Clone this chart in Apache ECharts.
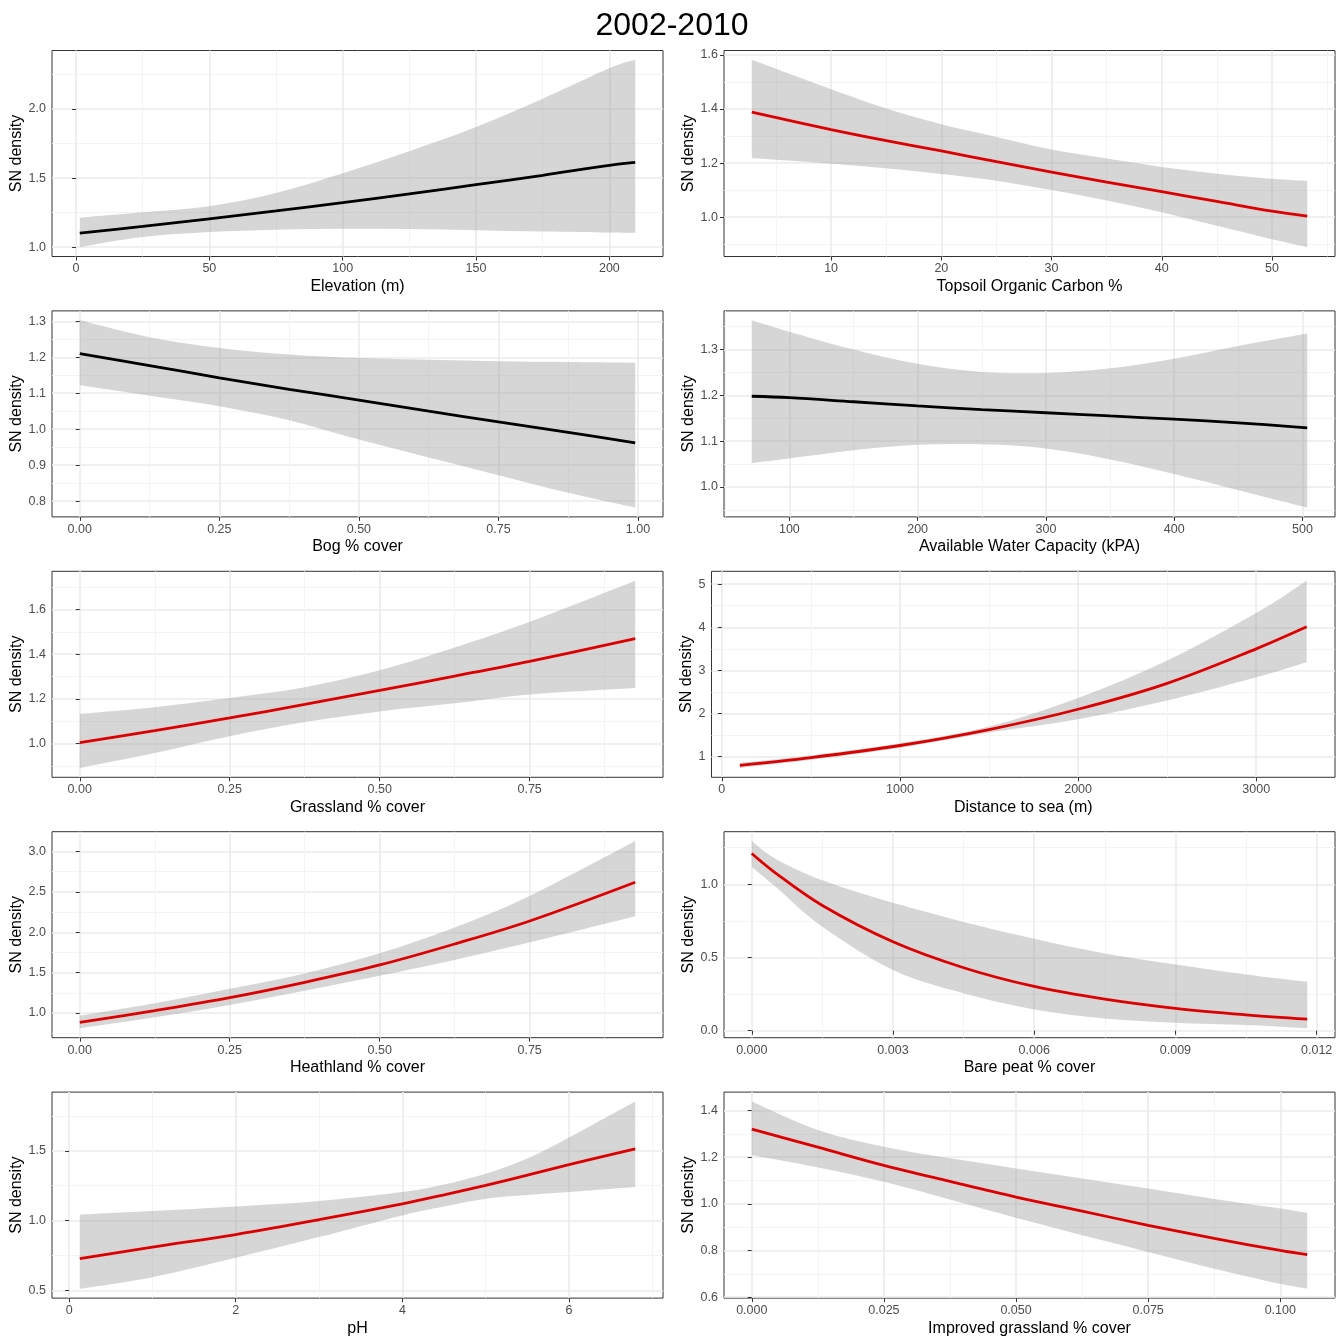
<!DOCTYPE html>
<html><head><meta charset="utf-8">
<script src="https://cdn.jsdelivr.net/npm/echarts@6/dist/echarts.min.js"></script>
<style>html,body{margin:0;padding:0;background:#fff}#c{width:1344px;height:1344px}</style>
</head><body><div id="c"></div>
<script>
// ---------------- DATA ----------------
const chartTitle = '2002-2010';
const yName = 'SN density';

// 1 Elevation
const elevName = 'Elevation (m)';
const elevX   = [1.4, 25, 50, 75, 100, 125, 150, 175, 200, 209.7];
const elevFit = [1.102, 1.150, 1.205, 1.262, 1.322, 1.386, 1.452, 1.520, 1.592, 1.613];
const elevLo  = [1.000, 1.073, 1.109, 1.126, 1.133, 1.131, 1.122, 1.113, 1.106, 1.104];
const elevHi  = [1.213, 1.252, 1.296, 1.392, 1.535, 1.695, 1.870, 2.075, 2.295, 2.356];
const elevXTicks = [0, 50, 100, 150, 200];
const elevXLabels = ['0', '50', '100', '150', '200'];
const elevXMinor = [25, 75, 125, 175];
const elevYTicks = [1.0, 1.5, 2.0];
const elevYLabels = ['1.0', '1.5', '2.0'];
const elevYMinor = [1.25, 1.75, 2.25];

// 2 Topsoil Organic Carbon
const tocName = 'Topsoil Organic Carbon %';
const tocX   = [2.8, 10, 15, 20, 25, 30, 35, 40, 45, 50, 53.2];
const tocFit = [1.389, 1.324, 1.283, 1.245, 1.205, 1.167, 1.130, 1.094, 1.058, 1.022, 1.004];
const tocLo  = [1.219, 1.198, 1.181, 1.160, 1.135, 1.100, 1.062, 1.018, 0.968, 0.918, 0.889];
const tocHi  = [1.582, 1.473, 1.402, 1.344, 1.297, 1.250, 1.217, 1.186, 1.161, 1.142, 1.134];
const tocXTicks = [10, 20, 30, 40, 50];
const tocXLabels = ['10', '20', '30', '40', '50'];
const tocXMinor = [5, 15, 25, 35, 45, 55];
const tocYTicks = [1.0, 1.2, 1.4, 1.6];
const tocYLabels = ['1.0', '1.2', '1.4', '1.6'];
const tocYMinor = [0.9, 1.1, 1.3, 1.5];

// 3 Bog
const bogName = 'Bog % cover';
const bogX   = [0, 0.125, 0.25, 0.375, 0.5, 0.625, 0.75, 0.875, 0.995];
const bogFit = [1.210, 1.177, 1.143, 1.111, 1.081, 1.050, 1.020, 0.991, 0.962];
const bogLo  = [1.122, 1.093, 1.064, 1.025, 0.971, 0.921, 0.872, 0.823, 0.782];
const bogHi  = [1.303, 1.256, 1.226, 1.208, 1.198, 1.193, 1.189, 1.187, 1.185];
const bogXTicks = [0, 0.25, 0.5, 0.75, 1.0];
const bogXLabels = ['0.00', '0.25', '0.50', '0.75', '1.00'];
const bogXMinor = [0.125, 0.375, 0.625, 0.875];
const bogYTicks = [0.8, 0.9, 1.0, 1.1, 1.2, 1.3];
const bogYLabels = ['0.8', '0.9', '1.0', '1.1', '1.2', '1.3'];
const bogYMinor = [0.85, 0.95, 1.05, 1.15, 1.25];

// 4 Available Water Capacity
const awcName = 'Available Water Capacity (kPA)';
const awcX   = [70.7, 100, 150, 200, 250, 300, 350, 400, 450, 503.7];
const awcFit = [1.198, 1.195, 1.186, 1.177, 1.169, 1.162, 1.155, 1.148, 1.140, 1.129];
const awcLo  = [1.052, 1.062, 1.080, 1.092, 1.093, 1.084, 1.060, 1.028, 0.993, 0.955];
const awcHi  = [1.364, 1.339, 1.300, 1.269, 1.251, 1.249, 1.259, 1.280, 1.308, 1.335];
const awcXTicks = [100, 200, 300, 400, 500];
const awcXLabels = ['100', '200', '300', '400', '500'];
const awcXMinor = [50, 150, 250, 350, 450];
const awcYTicks = [1.0, 1.1, 1.2, 1.3];
const awcYLabels = ['1.0', '1.1', '1.2', '1.3'];
const awcYMinor = [0.95, 1.05, 1.15, 1.25, 1.35];

// 5 Grassland
const grassName = 'Grassland % cover';
const grassX   = [0, 0.125, 0.25, 0.375, 0.5, 0.625, 0.75, 0.926];
const grassFit = [1.004, 1.058, 1.115, 1.175, 1.238, 1.302, 1.368, 1.470];
const grassLo  = [0.891, 0.958, 1.033, 1.096, 1.144, 1.180, 1.220, 1.249];
const grassHi  = [1.133, 1.163, 1.204, 1.252, 1.328, 1.430, 1.545, 1.729];
const grassXTicks = [0, 0.25, 0.5, 0.75];
const grassXLabels = ['0.00', '0.25', '0.50', '0.75'];
const grassXMinor = [0.125, 0.375, 0.625, 0.875];
const grassYTicks = [1.0, 1.2, 1.4, 1.6];
const grassYLabels = ['1.0', '1.2', '1.4', '1.6'];
const grassYMinor = [0.9, 1.1, 1.3, 1.5, 1.7];

// 6 Distance to sea
const seaName = 'Distance to sea (m)';
const seaX   = [101, 500, 1000, 1500, 2000, 2500, 3000, 3283];
const seaFit = [0.80, 0.98, 1.26, 1.63, 2.10, 2.70, 3.50, 4.01];
const seaLo  = [0.74, 0.93, 1.21, 1.56, 1.87, 2.30, 2.84, 3.19];
const seaHi  = [0.86, 1.03, 1.31, 1.70, 2.36, 3.23, 4.33, 5.08];
const seaXTicks = [0, 1000, 2000, 3000];
const seaXLabels = ['0', '1000', '2000', '3000'];
const seaXMinor = [500, 1500, 2500];
const seaYTicks = [1, 2, 3, 4, 5];
const seaYLabels = ['1', '2', '3', '4', '5'];
const seaYMinor = [1.5, 2.5, 3.5, 4.5];

// 7 Heathland
const heathName = 'Heathland % cover';
const heathX   = [0, 0.125, 0.25, 0.375, 0.5, 0.625, 0.75, 0.926];
const heathFit = [0.884, 1.030, 1.190, 1.380, 1.595, 1.855, 2.140, 2.620];
const heathLo  = [0.810, 0.946, 1.100, 1.277, 1.463, 1.657, 1.876, 2.200];
const heathHi  = [0.967, 1.120, 1.300, 1.490, 1.740, 2.060, 2.450, 3.130];
const heathXTicks = [0, 0.25, 0.5, 0.75];
const heathXLabels = ['0.00', '0.25', '0.50', '0.75'];
const heathXMinor = [0.125, 0.375, 0.625, 0.875];
const heathYTicks = [1.0, 1.5, 2.0, 2.5, 3.0];
const heathYLabels = ['1.0', '1.5', '2.0', '2.5', '3.0'];
const heathYMinor = [0.75, 1.25, 1.75, 2.25, 2.75];

// 8 Bare peat
const peatName = 'Bare peat % cover';
const peatX   = [0, 0.0005, 0.0015, 0.003, 0.0045, 0.006, 0.0075, 0.009, 0.0105, 0.0118];
const peatFit = [1.210, 1.078, 0.855, 0.607, 0.430, 0.302, 0.215, 0.152, 0.108, 0.079];
const peatLo  = [1.118, 0.985, 0.709, 0.414, 0.255, 0.145, 0.084, 0.055, 0.039, 0.016];
const peatHi  = [1.295, 1.175, 1.027, 0.873, 0.743, 0.627, 0.527, 0.452, 0.384, 0.334];
const peatXTicks = [0, 0.003, 0.006, 0.009, 0.012];
const peatXLabels = ['0.000', '0.003', '0.006', '0.009', '0.012'];
const peatXMinor = [0.0015, 0.0045, 0.0075, 0.0105];
const peatYTicks = [0.0, 0.5, 1.0];
const peatYLabels = ['0.0', '0.5', '1.0'];
const peatYMinor = [0.25, 0.75, 1.25];

// 9 pH
const phName = 'pH';
const phX   = [0.128, 1, 2, 3, 4, 4.5, 5, 5.5, 6, 6.795];
const phFit = [0.727, 0.810, 0.900, 1.006, 1.120, 1.184, 1.252, 1.325, 1.400, 1.514];
const phLo  = [0.512, 0.595, 0.734, 0.882, 1.037, 1.100, 1.156, 1.183, 1.204, 1.240];
const phHi  = [1.042, 1.068, 1.101, 1.140, 1.204, 1.258, 1.335, 1.445, 1.595, 1.853];
const phXTicks = [0, 2, 4, 6];
const phXLabels = ['0', '2', '4', '6'];
const phXMinor = [1, 3, 5, 7];
const phYTicks = [0.5, 1.0, 1.5];
const phYLabels = ['0.5', '1.0', '1.5'];
const phYMinor = [0.75, 1.25, 1.75];

// 10 Improved grassland
const impName = 'Improved grassland % cover';
const impX   = [0, 0.0125, 0.025, 0.0375, 0.05, 0.0625, 0.075, 0.0875, 0.1, 0.1051];
const impFit = [1.320, 1.243, 1.165, 1.096, 1.029, 0.969, 0.908, 0.852, 0.800, 0.782];
const impLo  = [1.209, 1.156, 1.095, 1.019, 0.940, 0.865, 0.794, 0.722, 0.657, 0.636];
const impHi  = [1.439, 1.317, 1.245, 1.195, 1.152, 1.109, 1.066, 1.021, 0.980, 0.961];
const impXTicks = [0, 0.025, 0.05, 0.075, 0.1];
const impXLabels = ['0.000', '0.025', '0.050', '0.075', '0.100'];
const impXMinor = [0.0125, 0.0375, 0.0625, 0.0875];
const impYTicks = [0.6, 0.8, 1.0, 1.2, 1.4];
const impYLabels = ['0.6', '0.8', '1.0', '1.2', '1.4'];
const impYMinor = [0.7, 0.9, 1.1, 1.3];

// ---------------- STYLE / LAYOUT ----------------
const BLACK = '#000000', RED = '#DC0000';
const panels = [
  {name: elevName, x: elevX, fit: elevFit, lo: elevLo, hi: elevHi, xt: elevXTicks, xl: elevXLabels, xm: elevXMinor, yt: elevYTicks, yl: elevYLabels, ym: elevYMinor, color: BLACK},
  {name: tocName, x: tocX, fit: tocFit, lo: tocLo, hi: tocHi, xt: tocXTicks, xl: tocXLabels, xm: tocXMinor, yt: tocYTicks, yl: tocYLabels, ym: tocYMinor, color: RED},
  {name: bogName, x: bogX, fit: bogFit, lo: bogLo, hi: bogHi, xt: bogXTicks, xl: bogXLabels, xm: bogXMinor, yt: bogYTicks, yl: bogYLabels, ym: bogYMinor, color: BLACK},
  {name: awcName, x: awcX, fit: awcFit, lo: awcLo, hi: awcHi, xt: awcXTicks, xl: awcXLabels, xm: awcXMinor, yt: awcYTicks, yl: awcYLabels, ym: awcYMinor, color: BLACK},
  {name: grassName, x: grassX, fit: grassFit, lo: grassLo, hi: grassHi, xt: grassXTicks, xl: grassXLabels, xm: grassXMinor, yt: grassYTicks, yl: grassYLabels, ym: grassYMinor, color: RED},
  {name: seaName, x: seaX, fit: seaFit, lo: seaLo, hi: seaHi, xt: seaXTicks, xl: seaXLabels, xm: seaXMinor, yt: seaYTicks, yl: seaYLabels, ym: seaYMinor, color: RED},
  {name: heathName, x: heathX, fit: heathFit, lo: heathLo, hi: heathHi, xt: heathXTicks, xl: heathXLabels, xm: heathXMinor, yt: heathYTicks, yl: heathYLabels, ym: heathYMinor, color: RED},
  {name: peatName, x: peatX, fit: peatFit, lo: peatLo, hi: peatHi, xt: peatXTicks, xl: peatXLabels, xm: peatXMinor, yt: peatYTicks, yl: peatYLabels, ym: peatYMinor, color: RED},
  {name: phName, x: phX, fit: phFit, lo: phLo, hi: phHi, xt: phXTicks, xl: phXLabels, xm: phXMinor, yt: phYTicks, yl: phYLabels, ym: phYMinor, color: RED},
  {name: impName, x: impX, fit: impFit, lo: impLo, hi: impHi, xt: impXTicks, xl: impXLabels, xm: impXMinor, yt: impYTicks, yl: impYLabels, ym: impYMinor, color: RED}
];

const FONT = '"Liberation Sans", Arial, Helvetica, sans-serif';
const colOrigin = [0, 672];
const colRight = [663, 1335];
const gridLefts = [52, 724, 52, 724, 52, 711.5, 52, 724, 52, 724];
const rowTop0 = 50.5, rowStep = 260.4, panelH = 206;
const MAJOR = '#EBEBEB', MINOR = '#F3F3F3';
const BAND = 'rgba(153,153,153,0.4)';

function fmt(ticks, labels) {
  return function (v) {
    for (let j = 0; j < ticks.length; j++) {
      if (Math.abs(ticks[j] - v) < 1e-9 + Math.abs(ticks[j]) * 1e-7) return labels[j];
    }
    return '';
  };
}

// smooth path (Catmull-Rom as cubic Bezier) through pixel points
function curveSegs(pts) {
  let d = '';
  const n = pts.length;
  for (let k = 0; k < n - 1; k++) {
    const p0 = pts[Math.max(k - 1, 0)], p1 = pts[k], p2 = pts[k + 1], p3 = pts[Math.min(k + 2, n - 1)];
    const c1 = [p1[0] + (p2[0] - p0[0]) / 6, p1[1] + (p2[1] - p0[1]) / 6];
    const c2 = [p2[0] - (p3[0] - p1[0]) / 6, p2[1] - (p3[1] - p1[1]) / 6];
    d += ' C' + c1[0] + ' ' + c1[1] + ' ' + c2[0] + ' ' + c2[1] + ' ' + p2[0] + ' ' + p2[1];
  }
  return d;
}

const grids = [], xAxes = [], yAxes = [], series = [];
panels.forEach((p, i) => {
  const row = Math.floor(i / 2), col = i % 2;
  const left = gridLefts[i];
  grids.push({left: left, top: rowTop0 + rowStep * row, width: colRight[col] - left, height: panelH,
    show: true, borderColor: '#333333', borderWidth: 1, backgroundColor: 'transparent', containLabel: false, outerBoundsMode: 'none'});
  const xmin0 = Math.min(...p.x), xmax0 = Math.max(...p.x), xr = xmax0 - xmin0;
  const ymin0 = Math.min(...p.lo, ...p.fit), ymax0 = Math.max(...p.hi, ...p.fit), yr = ymax0 - ymin0;
  const xmin = xmin0 - 0.05 * xr, xmax = xmax0 + 0.05 * xr;
  const ymin = ymin0 - 0.05 * yr, ymax = ymax0 + 0.05 * yr;

  xAxes.push({type: 'value', gridIndex: i, position: 'bottom', min: xmin, max: xmax,
    axisLine: {show: false},
    axisTick: {show: true, length: 4, lineStyle: {color: '#333333', width: 1}, customValues: p.xt},
    axisLabel: {show: true, customValues: p.xt, formatter: fmt(p.xt, p.xl), color: '#4D4D4D', fontSize: 12.5, fontFamily: FONT, margin: 6, showMinLabel: true, showMaxLabel: true, hideOverlap: false},
    splitLine: {show: true, lineStyle: {color: MAJOR, width: 1.6}},
    name: p.name, nameLocation: 'middle', nameGap: 22,
    nameTextStyle: {color: '#000000', fontSize: 16, fontFamily: FONT}
  });
  xAxes.push({type: 'value', gridIndex: i, position: 'top', min: xmin, max: xmax,
    axisLine: {show: false},
    axisTick: {show: false, customValues: p.xm},
    axisLabel: {show: false, customValues: p.xm},
    splitLine: {show: true, lineStyle: {color: MINOR, width: 0.9}}
  });
  const yGap = left - colOrigin[col] - 26;
  yAxes.push({type: 'value', gridIndex: i, position: 'left', min: ymin, max: ymax,
    axisLine: {show: false},
    axisTick: {show: true, length: 4, lineStyle: {color: '#333333', width: 1}, customValues: p.yt},
    axisLabel: {show: true, customValues: p.yt, formatter: fmt(p.yt, p.yl), color: '#4D4D4D', fontSize: 12.5, fontFamily: FONT, margin: 6, showMinLabel: true, showMaxLabel: true, hideOverlap: false},
    splitLine: {show: true, lineStyle: {color: MAJOR, width: 1.6}},
    name: yName, nameLocation: 'middle', nameGap: yGap, nameRotate: 90,
    nameTextStyle: {color: '#000000', fontSize: 16, fontFamily: FONT}
  });
  yAxes.push({type: 'value', gridIndex: i, position: 'right', min: ymin, max: ymax,
    axisLine: {show: false},
    axisTick: {show: false, customValues: p.ym},
    axisLabel: {show: false, customValues: p.ym},
    splitLine: {show: true, lineStyle: {color: MINOR, width: 0.9}}
  });

  // confidence band: polygon built from the hi / lo arrays through the axes
  series.push({type: 'custom', coordinateSystem: 'cartesian2d', xAxisIndex: 2 * i, yAxisIndex: 2 * i,
    data: [[p.x[0], p.fit[0]]], silent: true, z: 2, clip: true,
    renderItem: function (params, api) {
      const up = p.x.map((xv, k) => api.coord([xv, p.hi[k]]));
      const dn = p.x.map((xv, k) => api.coord([xv, p.lo[k]])).reverse();
      let d = 'M' + up[0][0] + ' ' + up[0][1] + curveSegs(up);
      d += ' L' + dn[0][0] + ' ' + dn[0][1] + curveSegs(dn) + ' Z';
      return {type: 'path', shape: {pathData: d}, style: {fill: BAND, stroke: null}};
    }
  });
  series.push({type: 'line', xAxisIndex: 2 * i, yAxisIndex: 2 * i,
    data: p.x.map((xv, k) => [xv, p.fit[k]]),
    symbol: 'none', smooth: 0.35, silent: true, lineStyle: {color: p.color, width: 2.8}, z: 3});
});

const chart = echarts.init(document.getElementById('c'), null, {renderer: 'canvas'});
chart.setOption({
  animation: false,
  backgroundColor: '#ffffff',
  title: {text: chartTitle, left: 'center', top: 5,
    textStyle: {fontSize: 32, fontWeight: 'normal', color: '#000000', fontFamily: FONT}},
  grid: grids, xAxis: xAxes, yAxis: yAxes, series: series
});
</script></body></html>
